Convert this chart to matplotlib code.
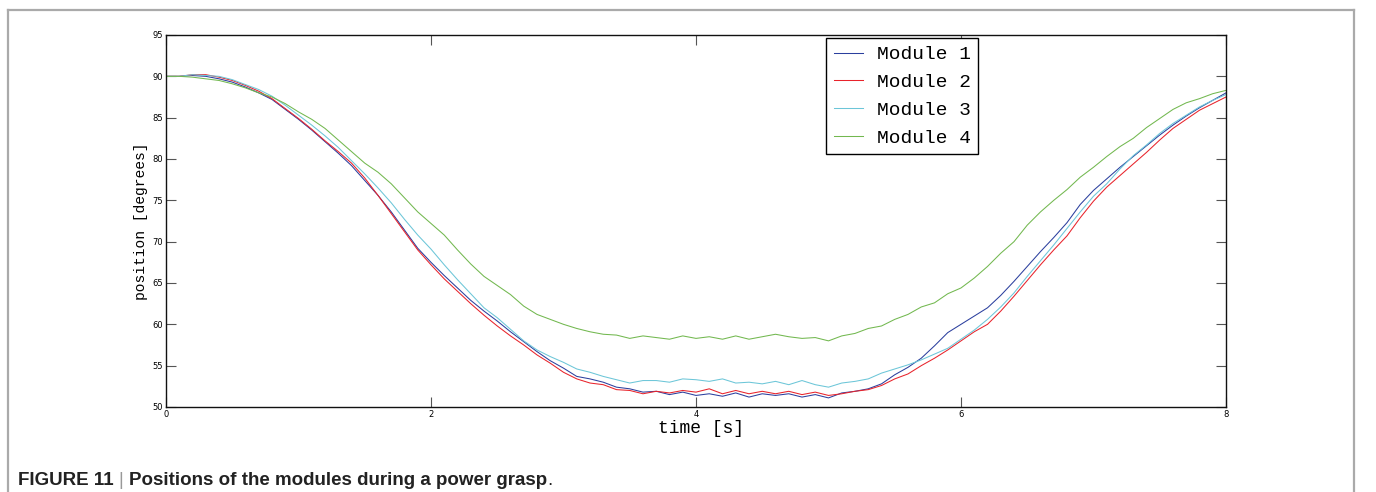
import matplotlib
matplotlib.use("Agg")
import matplotlib.pyplot as plt
import numpy as np
from matplotlib.lines import Line2D

# time axis, one sample every 0.1 s
time_s = np.round(np.arange(0, 81) * 0.1, 1)

module_1 = [90.0, 90.0, 90.1, 90.0, 89.7, 89.3, 88.7, 88.0, 87.2, 86.0,
            84.8, 83.5, 82.1, 80.7, 79.2, 77.4, 75.6, 73.6, 71.4, 69.2,
            67.5, 65.9, 64.4, 62.9, 61.6, 60.4, 59.1, 57.9, 56.7, 55.6,
            54.7, 53.7, 53.4, 53.0, 52.4, 52.2, 51.8, 51.9, 51.5, 51.8,
            51.4, 51.6, 51.3, 51.7, 51.2, 51.6, 51.4, 51.6, 51.2, 51.5,
            51.1, 51.7, 51.9, 52.2, 52.8, 53.9, 54.8, 55.9, 57.4, 59.0,
            60.0, 61.0, 62.0, 63.5, 65.2, 67.0, 68.8, 70.5, 72.3, 74.5,
            76.2, 77.6, 79.0, 80.3, 81.6, 82.9, 84.1, 85.2, 86.2, 87.1,
            88.0]

module_2 = [90.0, 90.0, 90.2, 90.2, 89.9, 89.5, 88.9, 88.2, 87.3, 86.1,
            84.9, 83.6, 82.2, 80.9, 79.5, 77.7, 75.6, 73.4, 71.2, 69.0,
            67.2, 65.5, 64.0, 62.5, 61.1, 59.8, 58.6, 57.5, 56.3, 55.3,
            54.2, 53.4, 52.9, 52.7, 52.1, 52.0, 51.6, 51.9, 51.7, 52.0,
            51.8, 52.2, 51.6, 52.0, 51.6, 51.9, 51.6, 51.9, 51.5, 51.8,
            51.4, 51.6, 51.9, 52.1, 52.6, 53.4, 54.0, 55.0, 55.9, 56.9,
            58.0, 59.1, 60.0, 61.6, 63.4, 65.3, 67.2, 69.0, 70.7, 72.9,
            74.9, 76.6, 78.0, 79.4, 80.8, 82.3, 83.7, 84.8, 85.9, 86.7,
            87.5]

module_3 = [90.0, 90.0, 90.2, 90.1, 90.0, 89.6, 89.0, 88.4, 87.6, 86.5,
            85.3, 84.1, 82.8, 81.4, 79.8, 78.2, 76.5, 74.7, 72.7, 70.8,
            69.1, 67.2, 65.4, 63.7, 62.0, 60.8, 59.4, 58.0, 56.9, 56.1,
            55.4, 54.6, 54.2, 53.7, 53.3, 52.9, 53.2, 53.2, 53.0, 53.4,
            53.3, 53.1, 53.4, 52.9, 53.0, 52.8, 53.1, 52.7, 53.2, 52.7,
            52.4, 52.9, 53.1, 53.4, 54.1, 54.6, 55.1, 55.7, 56.4, 57.1,
            58.2, 59.3, 60.6, 62.1, 63.8, 65.8, 67.7, 69.6, 71.6, 73.6,
            75.5, 77.0, 78.8, 80.4, 81.7, 83.1, 84.3, 85.3, 86.3, 87.1,
            87.8]

module_4 = [90.0, 90.0, 89.9, 89.7, 89.5, 89.1, 88.6, 88.0, 87.5, 86.7,
            85.7, 84.8, 83.7, 82.3, 80.9, 79.5, 78.4, 77.0, 75.3, 73.6,
            72.2, 70.8, 69.0, 67.3, 65.8, 64.7, 63.6, 62.2, 61.2, 60.6,
            60.0, 59.5, 59.1, 58.8, 58.7, 58.3, 58.6, 58.4, 58.2, 58.6,
            58.3, 58.5, 58.2, 58.6, 58.2, 58.5, 58.8, 58.5, 58.3, 58.4,
            58.0, 58.6, 58.9, 59.5, 59.8, 60.6, 61.2, 62.1, 62.6, 63.7,
            64.4, 65.6, 67.0, 68.6, 70.0, 72.0, 73.6, 75.0, 76.3, 77.8,
            79.0, 80.3, 81.5, 82.5, 83.8, 84.9, 86.0, 86.8, 87.3, 87.9,
            88.3]

labels = ["Module 1", "Module 2", "Module 3", "Module 4"]
colors = ["#2b3f9e", "#e8232b", "#6cc6d8", "#72b84f"]

x_ticks = [0, 2, 4, 6, 8]
y_ticks = [50, 55, 60, 65, 70, 75, 80, 85, 90, 95]

mono = "Liberation Mono"

fig = plt.figure(figsize=(13.76, 4.92), dpi=100)
ax = fig.add_axes([166 / 1376, 1 - 407 / 492, 1060 / 1376, 372 / 492])

for series, label, color in zip([module_1, module_2, module_3, module_4], labels, colors):
    ax.plot(time_s, series, color=color, lw=0.75, label=label)

ax.set_xlim(0, 8)
ax.set_ylim(50, 95)
ax.set_xticks(x_ticks)
ax.set_yticks(y_ticks)
ax.tick_params(direction="in", length=7, width=0.8, color="#555555",
               top=True, right=True, labelsize=6, pad=2)
for spine in ax.spines.values():
    spine.set_linewidth(1.0)
    spine.set_color("#111111")

ax.set_xlabel("time [s]", fontsize=13, family=mono, labelpad=0)
ax.xaxis.set_label_coords(0.505, -0.035)
ax.set_ylabel("position [degrees]", fontsize=10.5, family=mono, labelpad=3)

leg = ax.legend(loc="upper left", bbox_to_anchor=(0.6226, 0.992), borderaxespad=0,
                prop={"family": mono, "size": 14}, fancybox=False,
                edgecolor="black", framealpha=1, handlelength=1.5,
                labelspacing=0.52, borderpad=0.4, handletextpad=0.7)
leg.get_frame().set_linewidth(1.0)

# outer grey frame of the figure panel
frame_kw = dict(color="#aaaaaa", lw=1.6, transform=fig.transFigure)
fig.add_artist(Line2D([8 / 1376, 8 / 1376], [0, 1 - 10 / 492], **frame_kw))
fig.add_artist(Line2D([8 / 1376, 1354 / 1376], [1 - 10 / 492, 1 - 10 / 492], **frame_kw))
fig.add_artist(Line2D([1354 / 1376, 1354 / 1376], [0, 1 - 10 / 492], **frame_kw))

# caption, pieces placed one after another
renderer = fig.canvas.get_renderer()
cap_y = 1 - 485 / 492
x_pos = 18 / 1376
pieces = [("FIGURE 11 ", "bold", "#222222"), ("| ", "normal", "#999999"),
          ("Positions of the modules during a power grasp", "bold", "#222222"),
          (".", "normal", "#222222")]
for text, weight, color in pieces:
    t = fig.text(x_pos, cap_y, text, fontsize=13.5, fontweight=weight,
                 family="Liberation Sans", color=color, va="baseline")
    bb = t.get_window_extent(renderer)
    x_pos += bb.width / 1376

fig.savefig("out.png", dpi=100)
